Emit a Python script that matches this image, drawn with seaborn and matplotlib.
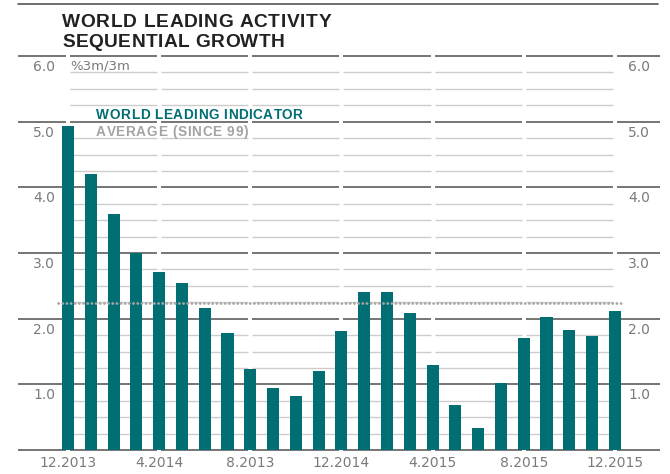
import matplotlib
matplotlib.use("Agg")
import matplotlib.pyplot as plt
import matplotlib.transforms as mtransforms
from matplotlib.font_manager import FontProperties
import seaborn as sns
import pandas as pd

months = ["12.2013", "1.2014", "2.2014", "3.2014", "4.2014", "5.2014", "6.2014", "7.2014",
          "8.2014", "9.2014", "10.2014", "11.2014", "12.2014", "1.2015", "2.2015", "3.2015",
          "4.2015", "5.2015", "6.2015", "7.2015", "8.2015", "9.2015", "10.2015", "11.2015", "12.2015"]
values = [4.93, 4.21, 3.60, 3.00, 2.71, 2.55, 2.17, 1.78, 1.24, 0.94, 0.82, 1.20, 1.81,
          2.41, 2.41, 2.09, 1.29, 0.69, 0.34, 1.02, 1.71, 2.03, 1.83, 1.74, 2.11]
average = 2.24
tick_positions = [0, 4, 8, 12, 16, 20, 24]
tick_labels = ["12.2013", "4.2014", "8.2013", "12.2014", "4.2015", "8.2015", "12.2015"]
major_y = [0, 1, 2, 3, 4, 5, 6]
minor_y = [v / 4 for v in range(25) if v % 4 != 0]
ylabels = ["1.0", "2.0", "3.0", "4.0", "5.0", "6.0"]

TEAL = "#006E73"
GRAY_TXT = "#7a7a7a"

sns.set_style("white")
plt.rcParams["font.family"] = ["DejaVu Sans"]

fig = plt.figure(figsize=(6.7, 4.74), dpi=100)
W, H = 670, 474
ax = fig.add_axes([18 / W, (H - 450) / H, 642 / W, (450 - 56) / H])

df = pd.DataFrame({"month": months, "value": values})
sns.barplot(data=df, x="month", y="value", order=months, color=TEAL, saturation=1,
            width=0.53, linewidth=0, ax=ax, zorder=3)

xl, xr = -2.194, 25.98
ax.set_xlim(xl, xr)
ax.set_ylim(0, 6)
for s in ax.spines.values():
    s.set_visible(False)

gap = 0.09
for y in minor_y:
    for a, b in zip(tick_positions[:-1], tick_positions[1:]):
        ax.hlines(y, a + gap, b - gap, color="#cccccc", lw=1.0, zorder=1)
for y in major_y:
    segs = [(xl, tick_positions[0] - gap)] + \
           [(a + gap, b - gap) for a, b in zip(tick_positions[:-1], tick_positions[1:])] + \
           [(tick_positions[-1] + gap, xr)]
    for a, b in segs:
        ax.hlines(y, a, b, color="#6a6a6a", lw=1.3, zorder=2, clip_on=False)

ax.plot([-0.45, 24.4], [average, average], color="#a6a6a6", lw=2.0,
        linestyle=(0, (0.05, 1.45)), dash_capstyle="round", zorder=4)

ax.set_xticks(tick_positions)
ax.set_xticklabels(tick_labels, fontsize=10, color=GRAY_TXT)
ax.tick_params(axis="x", length=0, pad=4)
ax.set_yticks([])
ax.set_xlabel("")
ax.set_ylabel("")

blend = mtransforms.blended_transform_factory(ax.transAxes, ax.transData)
off = mtransforms.offset_copy(blend, fig=fig, x=0, y=-7.8, units="points")
for v, lab in zip(major_y[1:], ylabels):
    ax.text((55 - 18) / 642, v, lab, transform=off, ha="right", va="center",
            fontsize=10, color=GRAY_TXT)
    ax.text((650 - 18) / 642, v, lab, transform=off, ha="right", va="center",
            fontsize=10, color=GRAY_TXT)

fig.text(70 / W, 1 - 66 / H, "%3m/3m", fontsize=9.5, color=GRAY_TXT, ha="left", va="center")

renderer = fig.canvas.get_renderer()


def spaced_text(s, x0, ybase, x1, size, color, family="Liberation Sans", weight="bold"):
    fp = FontProperties(family=family, weight=weight, size=size)
    ref_w = renderer.get_text_width_height_descent("|", fp, ismath=False)[0]

    def width(t):
        return renderer.get_text_width_height_descent(t + "|", fp, ismath=False)[0] - ref_w

    full = width(s)
    n = len(s)
    track = ((x1 - x0) - full) / (n - 1)
    for i, ch in enumerate(s):
        if ch == " ":
            continue
        xp = x0 + (width(s[:i]) + i * track if i > 0 else 0)
        fig.text(xp / W, 1 - ybase / H, ch, fontproperties=fp, color=color,
                 ha="left", va="baseline")


spaced_text("WORLD LEADING INDICATOR", 96, 119, 302, 9.8, TEAL)
spaced_text("AVERAGE (SINCE 99)", 96, 136, 248, 9.8, "#a3a3a3")
spaced_text("WORLD LEADING ACTIVITY", 62, 26.7, 331, 13.8, "#222222")
spaced_text("SEQUENTIAL GROWTH", 62, 46.7, 285, 13.8, "#222222")

fig.add_artist(plt.Line2D([18 / W, 658 / W], [1 - 4 / H, 1 - 4 / H], color="#555555", lw=1.2))

fig.savefig("out.png", dpi=100)
